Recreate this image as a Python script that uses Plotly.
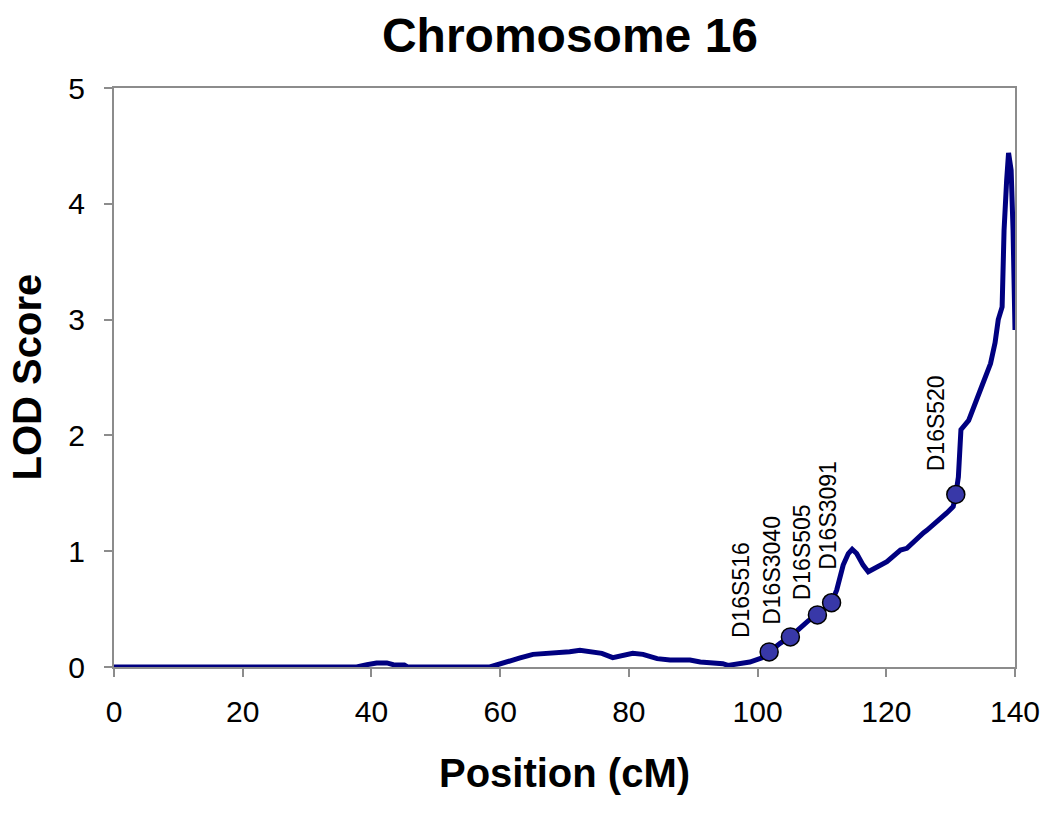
import plotly.graph_objects as go

# LOD score curve (position in cM, LOD score)
pos_cm = [0, 37.7, 39.3, 40.8, 42.4, 43.4, 45.1, 45.6, 58.4, 60.0, 61.5, 63.1, 65.1,
          67.2, 69.3, 70.8, 72.4, 73.9, 75.8, 77.5, 79.1, 80.6, 82.2, 84.4, 86.4,
          88.0, 89.5, 91.1, 93.1, 94.6, 95.4, 97.0, 98.8, 100.7, 101.8, 103.5, 105.1,
          106.6, 107.9, 109.3, 111.5, 112.3, 113.3, 114.1, 114.7, 115.4, 116.4, 117.2,
          120.1, 122.2, 123.2, 125.8, 126.3, 129.4, 130.4, 130.8, 131.2, 131.6, 132.8,
          134.6, 136.2, 136.9, 137.4, 138.0, 138.3, 138.7, 139.0, 139.4, 139.7, 140.0]
lod = [0, 0, 0.02, 0.035, 0.035, 0.02, 0.017, 0, 0, 0.023, 0.046, 0.078, 0.109,
       0.115, 0.124, 0.132, 0.144, 0.135, 0.118, 0.081, 0.104, 0.118, 0.109, 0.072, 0.06,
       0.062, 0.06, 0.043, 0.037, 0.029, 0.014, 0.029, 0.043, 0.08, 0.132, 0.204, 0.262,
       0.34, 0.40, 0.45, 0.555, 0.665, 0.88, 0.98, 1.016, 0.98, 0.88, 0.823,
       0.91, 1.01, 1.025, 1.16, 1.18, 1.33, 1.385, 1.49, 1.64, 2.05, 2.13,
       2.39, 2.62, 2.80, 3.0, 3.11, 3.77, 4.2, 4.44, 4.29, 3.77, 2.91]

# Markers
marker_names = ["D16S516", "D16S3040", "D16S505", "D16S3091", "D16S520"]
marker_pos = [101.8, 105.1, 109.3, 111.5, 130.8]
marker_lod = [0.13, 0.26, 0.45, 0.555, 1.49]

x_ticks = [0, 20, 40, 60, 80, 100, 120, 140]
y_ticks = [0, 1, 2, 3, 4, 5]

# label offsets in pixels (style)
label_dx = [-28, -18, -16, -3, -19]
label_dy = [12, 10, 13, 31, 21]

FONT = "Liberation Sans, Arial, sans-serif"
L, R, T, B = 106, 43, 80, 154
PLOT_W = 1050 - L - R

fig = go.Figure()
fig.add_trace(go.Scatter(x=pos_cm, y=lod, mode="lines",
                         line=dict(color="#000080", width=5),
                         cliponaxis=False, hoverinfo="skip", showlegend=False))
fig.add_trace(go.Scatter(x=marker_pos, y=marker_lod, mode="markers",
                         marker=dict(size=18, color="#3838a8",
                                     line=dict(color="black", width=1.5)),
                         cliponaxis=False, showlegend=False, text=marker_names))

for name, xv, yv, dx, dy in zip(marker_names, marker_pos, marker_lod, label_dx, label_dy):
    fig.add_annotation(x=xv, y=yv, text=name, showarrow=False, textangle=-90,
                       xanchor="center", yanchor="bottom", xshift=dx, yshift=dy,
                       font=dict(family=FONT, size=23, color="black"))

# y-axis title
fig.add_annotation(xref="paper", yref="paper", x=(18 - L) / PLOT_W, y=0.5,
                   text="<b>LOD Score</b>", showarrow=False, textangle=-90,
                   xanchor="center", yanchor="middle", borderpad=0,
                   font=dict(family=FONT, size=40, color="black"))

axis_common = dict(showline=True, linecolor="#8c8c8c", linewidth=2, mirror=True,
                   ticks="outside", tickcolor="#8c8c8c", ticklen=8, tickwidth=1.5,
                   showgrid=False, zeroline=False, automargin=False,
                   tickfont=dict(family=FONT, size=30, color="black"))

fig.update_layout(
    width=1050, height=813,
    paper_bgcolor="white", plot_bgcolor="white",
    margin=dict(l=L, r=R, t=T, b=B),
    title=dict(text="<b>Chromosome 16</b>", x=562 / 1050, xanchor="center",
               y=1 - 27 / 813, yanchor="middle", yref="container",
               font=dict(family=FONT, size=48, color="black")),
    xaxis=dict(range=[0, 140], tickvals=x_ticks, ticklabelstandoff=9,
               title=dict(text="<b>Position (cM)</b>", standoff=32,
                          font=dict(family=FONT, size=40, color="black")),
               **axis_common),
    yaxis=dict(range=[0, 5], tickvals=y_ticks, ticklabelstandoff=13,
               **axis_common),
)

fig.write_html("out.html")
